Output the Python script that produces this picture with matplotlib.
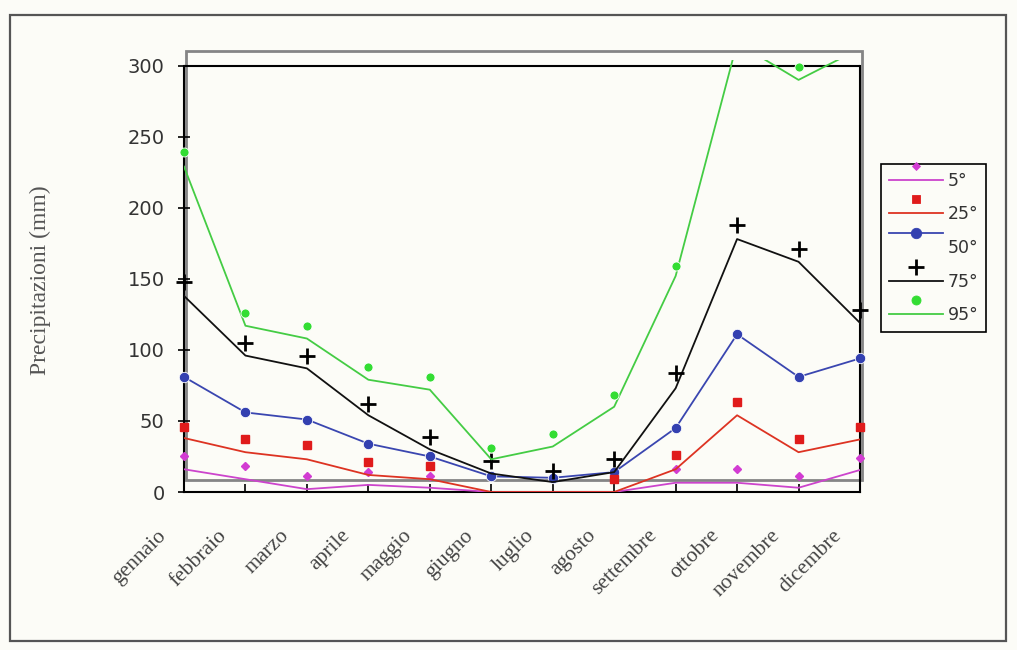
import numpy as np
import matplotlib
matplotlib.use("Agg")
import matplotlib.pyplot as plt
from matplotlib.lines import Line2D
from matplotlib.patches import Rectangle
from matplotlib.legend_handler import HandlerBase
from matplotlib.transforms import ScaledTranslation

nan = np.nan

# months and percentiles
months = ['gennaio', 'febbraio', 'marzo', 'aprile', 'maggio', 'giugno',
          'luglio', 'agosto', 'settembre', 'ottobre', 'novembre', 'dicembre']
labels = ['5°', '25°', '50°', '75°', '95°']

# points (markers) and the drawn curves are slightly different in the original
p5_pts = [25, 18, 11, 14, 11, nan, nan, nan, 16, 16, 11, 24]
p5_line = [16, 9, 2, 5, 3, 0, 0, 0, 6.5, 6.5, 3, 15.5]
p25_pts = [46, 37, 33, 21, 18, nan, nan, 9, 26, 63, 37, 46]
p25_line = [38, 28, 23, 12, 9, 0, 0, 0, 16, 54, 28, 37]
p50 = [81, 56, 51, 34, 25, 11, 10, 14, 45, 111, 81, 94]
p75_pts = [148, 105, 96, 62, 39, 22, 15, 23, 84, 188, 171, 128]
p75_line = [138, 96, 87, 54, 30, 13, 7, 14, 73, 178, 162, 119]
p95_pts = [239, 126, 117, 88, 81, 31, 41, 68, 159, nan, 299, nan]
p95_line = [229, 117, 108, 79, 72, 23, 32, 60, 152, 316, 290, 312]

bg = '#fcfcf7'
fig = plt.figure(figsize=(10.17, 6.5), dpi=100, facecolor=bg)
ax = fig.add_axes([184 / 1017, 158 / 650, 676 / 1017, 432 / 650])
ax.set_facecolor(bg)

x = np.arange(len(months))

# grey double frame of the old plot area
ax.add_patch(Rectangle((0.04, 8.5), 11.0, 301.5, fill=False, ec='#858585',
                       lw=2, clip_on=False, zorder=1.5))
ax.hlines(300, 0, 11, color='black', lw=1.5, zorder=1.6)

# series: (label, line values, point values, line color, marker, marker color, ms)
series = [
    ('5°', p5_line, p5_pts, '#cc44cc', 'D', '#d23cd2', 4.5, 1.0),
    ('25°', p25_line, p25_pts, '#dd3322', 's', '#e01b1b', 6, 1.0),
    ('50°', p50, p50, '#3a46b0', 'o', '#3340b0', 7.5, 1.0),
    ('75°', p75_line, p75_pts, '#111111', '+', '#000000', 12, 2.0),
    ('95°', p95_line, p95_pts, '#44cc44', 'o', '#33dd33', 6.5, 1.0),
]

handles = []
for i, (lab, ln, pts, lc, mk, mc, ms, mew) in enumerate(series):
    z = 3 + i * 0.1
    if lab == '25°':
        z = 3.5
    ax.plot(x, ln, color=lc, lw=1.3, zorder=z)
    mec = 'white' if mk == 'o' else mc
    ax.plot(x, pts, linestyle='none', marker=mk, color=mc, ms=ms,
            mec=mec if mk != '+' else mc, mew=0.6 if mk == 'o' else mew,
            clip_on=False, zorder=z + 0.05)
    handles.append(Line2D([], [], color=lc, lw=1.3, marker=mk, ms=ms,
                          mfc=mc, mec=mc, mew=mew if mk == '+' else 0.6,
                          label=lab))


class MarkerAboveLine(HandlerBase):
    def __init__(self, through=False):
        super().__init__()
        self.through = through

    def create_artists(self, legend, orig_handle, xdescent, ydescent,
                       width, height, fontsize, trans):
        y0 = height / 2 - ydescent
        ym = y0 + 0.8 * fontsize
        yl = ym if self.through else y0
        seg = Line2D([-xdescent, width - xdescent], [yl, yl],
                     color=orig_handle.get_color(),
                     lw=orig_handle.get_linewidth())
        seg.set_transform(trans)
        dot = Line2D([width / 2 - xdescent], [ym], linestyle='none',
                     marker=orig_handle.get_marker(),
                     ms=orig_handle.get_markersize(),
                     mfc=orig_handle.get_markerfacecolor(),
                     mec=orig_handle.get_markeredgecolor(),
                     mew=orig_handle.get_markeredgewidth())
        dot.set_transform(trans)
        return [seg, dot]


hmap = {h: MarkerAboveLine(through=(h.get_label() == '50°')) for h in handles}
leg = fig.legend(handles=handles, labels=labels, handler_map=hmap,
                 loc='upper left', bbox_to_anchor=(881 / 1017, 1 - 164 / 650),
                 bbox_transform=fig.transFigure, fontsize=12.5,
                 handlelength=3.1, handletextpad=0.3, labelspacing=0.9,
                 borderpad=0.45, borderaxespad=0, fancybox=False,
                 framealpha=1, facecolor=bg, edgecolor='black')
leg.get_frame().set_linewidth(1.2)
for t in leg.get_texts():
    t.set_color('#333333')

ax.set_xlim(0, 11)
ax.set_ylim(0, 304)
ax.set_yticks(range(0, 301, 50))
ax.set_xticks(x)
ax.set_xticklabels([])

# month labels, slanted, placed below and left of each tick
lab_tr = ax.get_xaxis_transform() + ScaledTranslation(-0.21, -0.41,
                                                      fig.dpi_scale_trans)
for xi, m in zip(x, months):
    ax.text(xi, 0, m, transform=lab_tr, rotation=45, ha='right',
            va='center', rotation_mode='anchor', family='Liberation Serif',
            fontsize=15.5, color='#444444', clip_on=False)

ax.tick_params(axis='x', direction='in', length=6, width=1.2)
ax.tick_params(axis='y', direction='inout', length=8, width=1.2, pad=10,
               labelsize=14, labelcolor='#333333')

ax.spines['top'].set_visible(False)
for s in ['left', 'right', 'bottom']:
    ax.spines[s].set_linewidth(1.5)
    ax.spines[s].set_color('black')
ax.spines['left'].set_bounds(0, 300)
ax.spines['right'].set_bounds(0, 300)

fig.text(40 / 1017, 1 - 280 / 650, 'Precipitazioni (mm)', rotation=90,
         ha='center', va='center', family='Liberation Serif', fontsize=17,
         color='#555555')

# outer border of the picture
fig.patches.append(Rectangle((10 / 1017, 9 / 650), 996 / 1017, 626 / 650,
                             transform=fig.transFigure, fill=False,
                             ec='#555555', lw=1.6))

fig.savefig('out.png', dpi=100, facecolor=bg)
